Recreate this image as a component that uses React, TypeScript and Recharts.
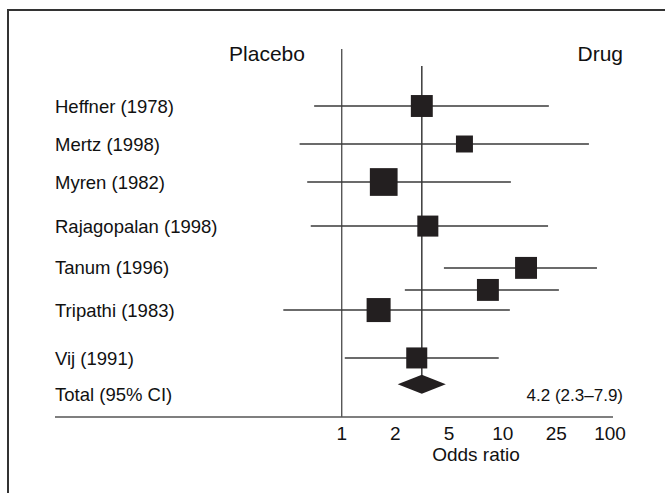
import { ErrorBar, ReferenceLine, Scatter, ScatterChart, XAxis, YAxis } from 'recharts'

// odds-ratio axis: tick labels sit evenly, with log steps between them
const tickValues = [1, 2, 5, 10, 25, 100]

const studyNames = [
  'Heffner (1978)',
  'Mertz (1998)',
  'Myren (1982)',
  'Rajagopalan (1998)',
  'Tanum (1996)',
  '',
  'Tripathi (1983)',
  'Vij (1991)',
]
const studyOr = [3.14, 6.1, 1.72, 3.48, 14.9, 8.26, 1.61, 2.88]
const studyLo = [0.7, 0.58, 0.64, 0.67, 4.58, 2.35, 0.47, 1.04]
const studyHi = [22, 58, 11.5, 21.7, 71.4, 26.7, 11.3, 9.5]
const studyWeight = [12.5, 7.5, 20, 11.5, 12.5, 12.5, 15, 11.5]
// row order down the plot (uneven gaps as in the figure)
const studyRow = [0, 1, 2, 3.16, 4.26, 4.84, 5.37, 6.63]

const totalOr = 3.14
const totalLo = 2.08
const totalHi = 4.73
const totalRow = 7.32
const totalLabelRow = 7.6
const totalText = '4.2 (2.3–7.9)'

const WIDTH = 665
const HEIGHT = 493
const MARGIN = { top: 49, right: 52, bottom: 46, left: 54 }
const X_MIN = -5.345
const X_MAX = 5.056
const Y_MIN = -1.5
const Y_MAX = 8.184
const PX_PER_UNIT = (WIDTH - 55 - MARGIN.right) / (X_MAX - X_MIN)
const BOX_K = 6.2
const INK = '#231f20'
const LINE = '#3a3a3a'
const FONT = '"Liberation Sans", Arial, sans-serif'

function pos(or: number) {
  if (or <= 1) return Math.log(or) / Math.log(2)
  if (or >= 100) return 5 + Math.log(or / 100) / Math.log(4)
  let i = 0
  while (tickValues[i + 1] <= or) i++
  return i + Math.log(or / tickValues[i]) / Math.log(tickValues[i + 1] / tickValues[i])
}

const studies = studyNames.map((name, i) => ({
  name,
  x: pos(studyOr[i]),
  y: studyRow[i],
  weight: studyWeight[i],
  ci: [pos(studyOr[i]) - pos(studyLo[i]), pos(studyHi[i]) - pos(studyOr[i])],
}))

const total = [{ x: pos(totalOr), y: totalRow, lo: pos(totalLo), hi: pos(totalHi) }]

const labelRows = [...studies.filter((s) => s.name).map((s) => s.y), totalLabelRow]
const labelText = [...studies.filter((s) => s.name).map((s) => s.name), 'Total (95% CI)']

function RowLabel(props: any) {
  const { y, payload } = props
  const i = labelRows.indexOf(payload.value)
  return (
    <text x={55} y={y} dy="0.355em" textAnchor="start" fontSize={18.5} fill="#111" fontFamily={FONT}>
      {labelText[i]}
    </text>
  )
}

function StudyBox(props: any) {
  const { cx, cy, payload } = props
  const s = BOX_K * Math.sqrt(payload.weight)
  return <rect x={cx - s / 2} y={cy - s / 2} width={s} height={s} fill={INK} />
}

function Diamond(props: any) {
  const { cx, cy, payload } = props
  const l = cx - (payload.x - payload.lo) * PX_PER_UNIT
  const r = cx + (payload.hi - payload.x) * PX_PER_UNIT
  const h = 9.5
  return <polygon points={`${l},${cy} ${cx},${cy - h} ${r},${cy} ${cx},${cy + h}`} fill={INK} />
}

export default function App() {
  return (
    <div style={{ position: 'absolute', left: 0, top: 0, width: WIDTH, height: HEIGHT, background: '#fff', fontFamily: FONT }}>
      <div
        style={{
          position: 'absolute',
          left: 7,
          top: 9,
          width: WIDTH,
          height: HEIGHT,
          borderLeft: '2px solid #333',
          borderTop: '2px solid #333',
        }}
      />
      <ScatterChart width={WIDTH} height={HEIGHT} margin={MARGIN} style={{ position: 'absolute', left: 0, top: 0 }}>
        <XAxis
          type="number"
          dataKey="x"
          domain={[X_MIN, X_MAX]}
          allowDataOverflow
          ticks={[0, 1, 2, 3, 4, 5]}
          tickFormatter={(v: number) => String(tickValues[v])}
          interval={0}
          tickLine={false}
          tickSize={0}
          tickMargin={10}
          height={30}
          axisLine={{ stroke: '#555', strokeWidth: 1.5 }}
          tick={{ fill: '#111', fontSize: 19, fontFamily: FONT }}
        />
        <YAxis
          type="number"
          dataKey="y"
          domain={[Y_MIN, Y_MAX]}
          allowDataOverflow
          reversed
          width={1}
          ticks={labelRows}
          interval={0}
          axisLine={false}
          tickLine={false}
          tick={<RowLabel />}
        />
        <ReferenceLine x={0} stroke={LINE} strokeWidth={1.2} />
        <ReferenceLine
          segment={[
            { x: pos(totalOr), y: -1.05 },
            { x: pos(totalOr), y: totalRow },
          ]}
          stroke={LINE}
          strokeWidth={1.5}
        />
        <Scatter data={studies} shape={StudyBox} isAnimationActive={false}>
          <ErrorBar dataKey="ci" direction="x" width={0} stroke={LINE} strokeWidth={1.5} isAnimationActive={false} />
        </Scatter>
        <Scatter data={total} shape={Diamond} isAnimationActive={false} />
        <text x={267} y={61} textAnchor="middle" fontSize={21} fill="#111" fontFamily={FONT}>
          Placebo
        </text>
        <text x={623} y={61} textAnchor="end" fontSize={21} fill="#111" fontFamily={FONT}>
          Drug
        </text>
        <text x={623} y={401} textAnchor="end" fontSize={17} fill="#111" fontFamily={FONT}>
          {totalText}
        </text>
        <text x={476} y={461} textAnchor="middle" fontSize={19} fill="#111" fontFamily={FONT}>
          Odds ratio
        </text>
      </ScatterChart>
    </div>
  )
}
